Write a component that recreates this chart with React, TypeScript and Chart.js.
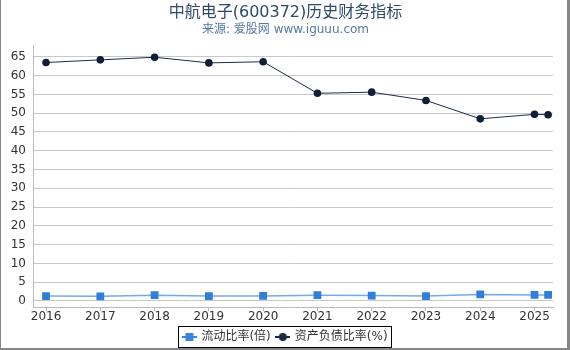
import React, { useEffect, useRef } from "react";
import { Chart, registerables } from "chart.js";

Chart.register(...registerables);

const TITLE = "中航电子(600372)历史财务指标";
const SUBTITLE = "来源: 爱股网 www.iguuu.com";
const YEAR_TICKS = [2016, 2017, 2018, 2019, 2020, 2021, 2022, 2023, 2024, 2025];
const Y_TICKS = [0, 5, 10, 15, 20, 25, 30, 35, 40, 45, 50, 55, 60, 65];
const X_POS = [2016, 2017, 2018, 2019, 2020, 2021, 2022, 2023, 2024, 2025, 2025.25];
const CURRENT_RATIO = [1.3, 1.25, 1.55, 1.3, 1.35, 1.55, 1.45, 1.3, 1.75, 1.6, 1.6];
const DEBT_RATIO = [63.5, 64.2, 64.9, 63.4, 63.7, 55.3, 55.6, 53.4, 48.5, 49.7, 49.6];
const SERIES_NAMES = ["流动比率(倍)", "资产负债比率(%)"];

const FONT = "'DejaVu Sans', 'Noto Sans CJK SC', sans-serif";

function makeIcon(color: string, kind: "rect" | "circle") {
  const c = document.createElement("canvas");
  c.width = 15;
  c.height = 10;
  const ctx = c.getContext("2d")!;
  ctx.strokeStyle = color;
  ctx.lineWidth = 2;
  ctx.beginPath();
  ctx.moveTo(0, 5);
  ctx.lineTo(15, 5);
  ctx.stroke();
  ctx.fillStyle = color;
  if (kind === "rect") {
    ctx.fillRect(3.5, 1, 8, 8);
  } else {
    ctx.beginPath();
    ctx.arc(7.5, 5, 4, 0, Math.PI * 2);
    ctx.fill();
  }
  return c;
}

export default function App() {
  const ref = useRef<HTMLCanvasElement>(null);
  useEffect(() => {
    document.body.style.margin = "0";
    const blue = "#2f7ed8";
    const navy = "#0f1f38";
    const icons = [makeIcon("#3a86dd", "rect"), makeIcon("#1a2a44", "circle")];
    const frame = {
      id: "frame",
      afterLayout(chart: any) {
        (chart.boxes || []).forEach((b: any) => {
          if (!b.axis) {
            b.left += 9;
            b.right += 9;
          }
        });
      },
      afterDraw(chart: any) {
        const ctx = chart.ctx;
        ctx.save();
        ctx.fillStyle = "#868686";
        ctx.fillRect(0, 0, 1, 350);
        ctx.fillRect(567, 0, 3, 350);
        ctx.fillRect(0, 348, 570, 2);
        const hb = chart.legend?.legendHitBoxes || [];
        if (hb.length) {
          const l = Math.min(...hb.map((b: any) => b.left)) - 5;
          const r = Math.max(...hb.map((b: any) => b.left + b.width)) + 4;
          const t = hb[0].top - 5;
          const h = hb[0].height + 9;
          ctx.strokeStyle = "#000";
          ctx.lineWidth = 1;
          ctx.strokeRect(Math.round(l) + 0.5, Math.round(t) + 0.5, Math.round(r - l), Math.round(h));
        }
        ctx.restore();
      },
    };
    const chart = new Chart(ref.current!, {
      type: "line",
      data: {
        datasets: [
          {
            label: SERIES_NAMES[0],
            data: X_POS.map((x, i) => ({ x, y: CURRENT_RATIO[i] })),
            borderColor: "rgba(58,134,221,0.7)",
            backgroundColor: blue,
            borderWidth: 1.5,
            pointStyle: "rect",
            pointRadius: 5.5,
            pointBorderWidth: 0,
            pointBackgroundColor: blue,
          },
          {
            label: SERIES_NAMES[1],
            data: X_POS.map((x, i) => ({ x, y: DEBT_RATIO[i] })),
            borderColor: "#1c2c46",
            backgroundColor: navy,
            borderWidth: 1,
            pointStyle: "circle",
            pointRadius: 3.8,
            pointBorderWidth: 0,
            pointBackgroundColor: navy,
          },
        ],
      },
      options: {
        animation: false,
        responsive: false,
        maintainAspectRatio: false,
        layout: { padding: { left: 0, right: 17, top: 0, bottom: -3 } },
        plugins: {
          title: {
            display: true,
            text: TITLE,
            color: "#2e4a6b",
            font: { family: FONT, size: 16, weight: "normal" },
            padding: { top: 3, bottom: 0 },
          },
          subtitle: {
            display: true,
            text: SUBTITLE,
            color: "#5479a3",
            font: { family: FONT, size: 12, weight: "normal" },
            padding: { top: 0, bottom: 9 },
          },
          legend: {
            position: "bottom",
            labels: {
              color: "#333",
              font: { family: FONT, size: 12 },
              usePointStyle: true,
              pointStyleWidth: 12,
              padding: 6,
              generateLabels: (c: any) =>
                c.data.datasets.map((d: any, i: number) => ({
                  text: d.label,
                  pointStyle: icons[i],
                  fontColor: "#333",
                  datasetIndex: i,
                  hidden: false,
                  lineWidth: 0,
                })),
            },
          },
          tooltip: { enabled: false },
        },
        scales: {
          x: {
            type: "linear",
            min: 2015.76,
            max: 2025.34,
            afterBuildTicks: (s: any) => {
              s.ticks = YEAR_TICKS.map((v) => ({ value: v }));
            },
            afterFit: (s: any) => {
              s.height = 18;
            },
            ticks: {
              color: "#333",
              font: { family: FONT, size: 12 },
              padding: -1,
              maxRotation: 0,
              autoSkip: false,
              callback: (v: any) => String(v),
            },
            grid: {
              drawOnChartArea: false,
              drawTicks: true,
              tickLength: 4,
              color: "#bbb",
            },
            border: { display: true, color: "#bbb" },
          },
          y: {
            type: "linear",
            min: -1.6,
            max: 68,
            afterBuildTicks: (s: any) => {
              s.ticks = Y_TICKS.map((v) => ({ value: v }));
            },
            afterFit: (s: any) => {
              s.width = 33;
            },
            ticks: {
              color: "#333",
              font: { family: FONT, size: 12 },
              padding: 7,
            },
            grid: { color: "#c8c8c8", drawTicks: false },
            border: { display: true, color: "#bbb" },
          },
        },
      },
      plugins: [frame],
    } as any);
    return () => chart.destroy();
  }, []);
  return (
    <div style={{ position: "fixed", left: 0, top: 0, width: 570, height: 350, background: "#fff" }}>
      <canvas ref={ref} width={570} height={350} style={{ display: "block", width: 570, height: 350 }} />
    </div>
  );
}
